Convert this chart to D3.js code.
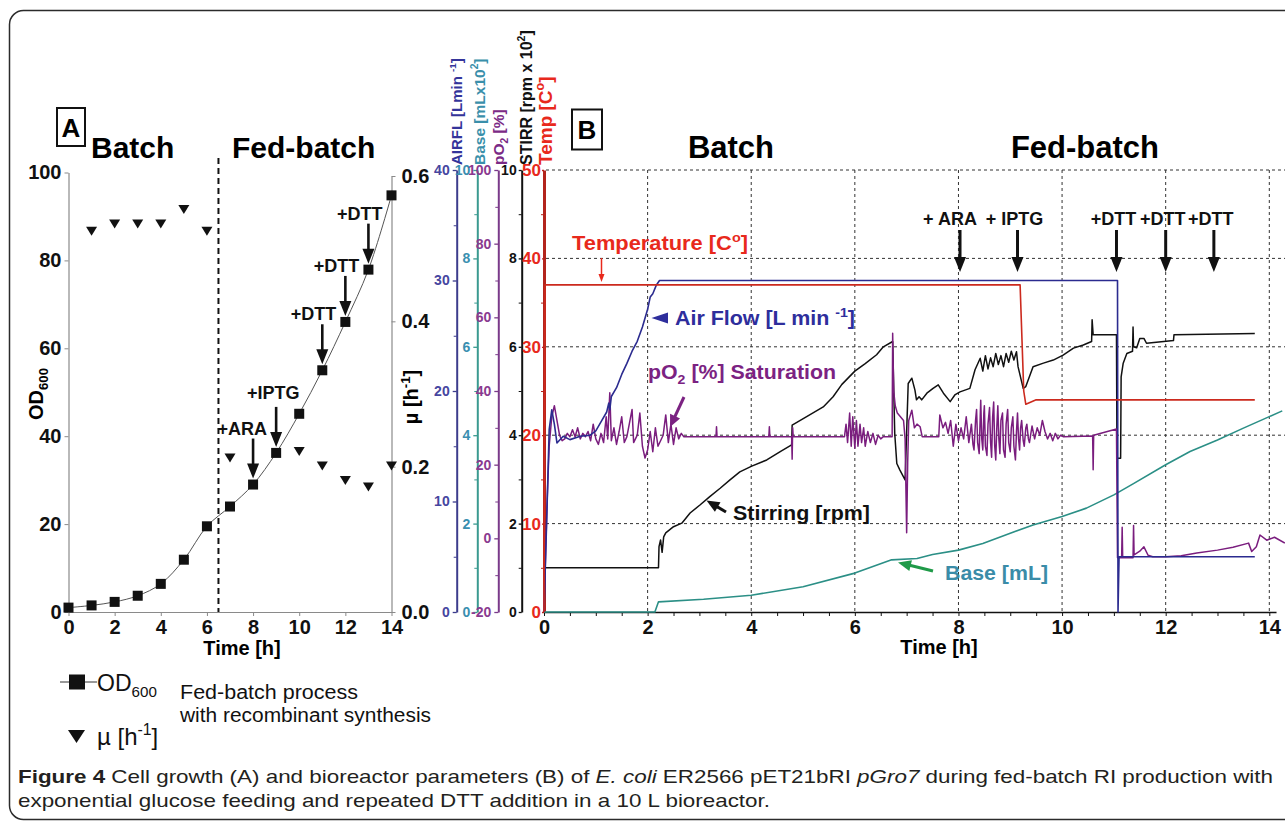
<!DOCTYPE html>
<html>
<head>
<meta charset="utf-8">
<script src="https://cdn.jsdelivr.net/npm/d3@7"></script>
<style>
  body { margin: 0; background: #fff; }
  svg { display: block; font-family: Arial, "Liberation Sans", sans-serif; }
</style>
</head>
<body>
<div id="chart"></div>
<script>
// ---------- Panel A: cell growth ----------
const odHours = [0, 1, 2, 3, 4, 5, 6, 7, 8, 9, 10, 11, 12, 13, 14];
const odValues = [1.0, 1.5, 2.3, 3.7, 6.4, 11.9, 19.5, 24, 29, 36.2, 45.1, 55, 66, 77.9, 94.8];
const muHours = [1, 2, 3, 4, 5, 6, 7, 10, 11, 12, 13, 14];
const muValues = [0.524, 0.534, 0.534, 0.534, 0.554, 0.524, 0.212, 0.221, 0.201, 0.181, 0.172, 0.201];
const odTicks = [0, 20, 40, 60, 80, 100];
const muTicks = [0, 0.2, 0.4, 0.6];
const hourTicks = [0, 2, 4, 6, 8, 10, 12, 14];
const feedStartA = 6.5;
const additionsA = [
  { label: '+ARA', t: 8 }, { label: '+IPTG', t: 9 },
  { label: '+DTT', t: 11 }, { label: '+DTT', t: 12 }, { label: '+DTT', t: 13 }
];

// ---------- Panel B: bioreactor parameters [time h, value] ----------
const temperature = [[0, 0], [0.02, 37], [9.19, 37], [9.26, 25], [9.3, 23.5], [9.5, 24], [13.72, 24]];

const airFlow = [[0, 0], [0.05, 8], [0.1, 16.5], [0.15, 18.3], [0.2, 17], [0.25, 15.3], [0.37, 15.9],
  [0.5, 15.6], [0.7, 15.9], [0.89, 16], [1.0, 16.4], [1.1, 17.2], [1.21, 18.1], [1.25, 18.9], [1.27, 18.3],
  [1.3, 19.5], [1.4, 20.3], [1.5, 21.5], [1.6, 22.5], [1.7, 23.6], [1.8, 24.5], [1.9, 25.8], [2.0, 27.4],
  [2.05, 28.5], [2.1, 28.8], [2.17, 29.6], [2.23, 30], [11.07, 30], [11.08, 0], [11.1, 5], [13.72, 5]];

const pO2 = [[0, -18], [0.03, -5], [0.06, 10], [0.1, 25], [0.15, 33], [0.2, 36], [0.25, 32], [0.3, 28],
  [0.35, 26.5], [0.4, 27], [0.45, 28.5], [0.5, 27.6], [0.55, 29.5], [0.6, 27.6], [0.65, 30], [0.7, 27],
  [0.75, 28.5], [0.8, 27.6], [0.85, 29], [0.9, 26.5], [0.95, 31], [1.0, 27], [1.05, 25.5], [1.1, 28.5],
  [1.15, 26], [1.2, 33], [1.23, 27], [1.27, 39.5], [1.3, 26.5], [1.35, 30], [1.4, 25.5], [1.45, 29],
  [1.5, 33], [1.55, 26], [1.6, 27.6], [1.7, 35], [1.73, 26], [1.8, 28], [1.85, 34], [1.9, 25], [1.95, 21.8],
  [2.0, 24], [2.05, 29], [2.1, 23.5], [2.15, 30], [2.2, 25], [2.3, 28], [2.35, 33.5], [2.4, 26], [2.45, 31],
  [2.5, 25.5], [2.55, 30], [2.6, 27], [2.65, 28.5], [2.7, 27.6],
  [3.32, 27.6], [3.33, 30.3], [3.34, 27.6], [4.34, 27.6], [4.35, 30.3], [4.36, 27.6], [4.78, 27.6],
  [4.79, 21.5], [4.8, 30], [4.81, 27.6], [5.8, 27.6],
  [5.83, 31], [5.86, 26], [5.9, 34], [5.93, 25], [5.96, 33], [6.0, 24.5], [6.03, 32], [6.06, 25], [6.1, 31],
  [6.13, 26], [6.17, 30], [6.2, 25], [6.25, 29], [6.3, 26], [6.35, 28.5], [6.4, 25.5], [6.45, 28], [6.5, 27],
  [6.55, 27.6], [6.72, 27.6],
  [6.73, 55.7], [6.75, 40], [6.78, 36], [6.82, 34], [6.88, 33], [6.94, 32], [6.97, 27], [7.0, 1.5],
  [7.02, 20.5], [7.04, 32], [7.1, 34.8], [7.15, 30], [7.2, 31], [7.26, 30.3], [7.3, 27.6], [7.62, 27.6],
  [7.64, 33.5], [7.7, 30], [7.75, 31.5], [7.8, 28.5], [7.85, 32], [7.9, 25], [7.95, 31], [8.0, 26.5],
  [8.05, 30], [8.1, 27], [8.15, 33], [8.2, 26], [8.25, 31], [8.28, 25.5], [8.3, 24], [8.33, 32], [8.35, 35],
  [8.37, 26], [8.4, 23], [8.42, 33], [8.43, 37.5], [8.45, 27], [8.47, 24], [8.49, 34], [8.5, 36], [8.52, 25],
  [8.55, 22.5], [8.57, 31], [8.6, 35.5], [8.62, 26], [8.64, 22], [8.66, 33], [8.68, 37], [8.7, 25],
  [8.72, 21.3], [8.74, 30], [8.76, 36], [8.78, 27], [8.8, 23], [8.82, 32], [8.85, 34], [8.87, 24], [8.9, 22],
  [8.92, 31], [8.95, 35], [8.97, 26], [9.0, 23.5], [9.02, 30], [9.05, 33], [9.07, 25], [9.1, 21.3],
  [9.12, 29], [9.14, 34], [9.16, 27], [9.18, 24], [9.2, 30], [9.22, 32], [9.25, 26.5], [9.27, 25],
  [9.3, 30], [9.32, 31], [9.35, 27], [9.37, 26], [9.42, 30.5], [9.47, 27], [9.52, 30], [9.57, 28], [9.62, 32],
  [9.67, 29], [9.72, 27], [9.77, 28.5], [9.82, 26.5], [9.87, 28.5], [9.92, 27], [9.97, 28], [10.02, 27.6],
  [10.59, 27.8], [10.6, 18.6], [10.61, 28], [11.05, 29.7], [11.07, -5.3], [11.15, -5.3], [11.16, 3],
  [11.17, -5.3], [11.37, -5.3], [11.38, 3.5], [11.39, -4.5], [11.5, -3.5], [11.58, -2.3], [11.66, -4.6],
  [11.75, -5], [12.0, -5], [12.3, -4.7], [12.6, -4], [13.0, -3.2], [13.3, -2.4], [13.6, -1.3], [13.66, -3.6],
  [13.75, -2.3], [13.82, 0.9], [13.95, -0.5], [14.1, 0.3], [14.3, -1.3]];

const stirring = [[0, 1.0], [2.21, 1.0], [2.22, 1.48], [2.25, 1.63], [2.28, 1.35], [2.31, 1.7], [2.35, 1.79],
  [2.5, 1.93], [2.66, 2.01], [2.82, 2.24], [3.01, 2.42], [3.2, 2.61], [3.4, 2.8], [3.59, 2.99], [3.78, 3.17],
  [4.01, 3.3], [4.3, 3.44], [4.56, 3.63], [4.78, 3.78], [4.79, 4.23], [5.07, 4.42], [5.39, 4.64], [5.58, 4.87],
  [5.75, 5.15], [6.0, 5.45], [6.2, 5.62], [6.42, 5.82], [6.55, 6.0], [6.73, 6.12], [6.77, 4.04], [6.81, 3.36],
  [6.87, 3.21], [6.97, 2.99], [7.03, 5.17], [7.1, 5.29], [7.16, 5.02], [7.19, 4.8], [7.24, 4.87], [7.29, 4.8],
  [7.39, 4.95], [7.51, 5.06], [7.61, 5.14], [7.71, 4.95], [7.84, 4.76], [7.93, 4.91], [8.03, 4.98],
  [8.22, 5.06], [8.32, 5.48], [8.42, 5.74], [8.47, 5.45], [8.52, 5.8], [8.57, 5.5], [8.62, 5.75], [8.67, 5.55],
  [8.72, 5.85], [8.77, 5.6], [8.82, 5.8], [8.87, 5.55], [8.92, 5.85], [8.97, 5.65], [9.02, 5.9], [9.07, 5.7],
  [9.12, 5.89], [9.15, 5.55], [9.25, 5.06], [9.3, 5.1], [9.44, 5.55], [9.64, 5.63], [9.83, 5.7], [10.02, 5.81],
  [10.22, 5.97], [10.41, 6.04], [10.57, 6.12], [10.58, 6.61], [10.6, 6.27], [11.05, 6.27], [11.06, 3.48],
  [11.13, 3.48], [11.14, 5.32], [11.18, 5.63], [11.25, 5.85], [11.36, 5.9], [11.37, 6.45], [11.38, 6.0],
  [11.44, 5.98], [11.5, 6.19], [11.58, 6.19], [11.63, 6.08], [12.15, 6.14], [12.16, 6.27], [13.72, 6.3]];

const base = [[0, 0], [2.14, 0], [2.21, 0.23], [3.08, 0.29], [4.0, 0.38], [5.0, 0.57], [6.0, 0.88],
  [6.71, 1.18], [7.2, 1.21], [7.5, 1.3], [8.0, 1.4], [8.47, 1.55], [9.0, 1.78], [9.44, 1.97], [10.0, 2.16],
  [10.47, 2.35], [11.0, 2.65], [11.37, 2.9], [12.0, 3.33], [12.47, 3.63], [13.0, 3.89], [13.5, 4.16],
  [14.0, 4.42], [14.25, 4.55]];

const paramAxes = [
  { key: 'air', domain: [0, 40], labels: [0, 10, 20, 30, 40], minor: [5, 15, 25, 35] },
  { key: 'base', domain: [0, 10], labels: [0, 2, 4, 6, 8, 10], minor: [1, 3, 5, 7, 9] },
  { key: 'po2', domain: [-20, 100], labels: [-20, 0, 20, 40, 60, 80, 100], minor: [-10, 10, 30, 50, 70, 90] },
  { key: 'stir', domain: [0, 10], labels: [0, 2, 4, 6, 8, 10], minor: [1, 3, 5, 7, 9] },
  { key: 'temp', domain: [0, 50], labels: [0, 10, 20, 30, 40, 50], minor: [5, 15, 25, 35, 45] }
];
const gridTemps = [10, 20, 30, 40, 50];
const gridHours = [2, 4, 6, 8, 10, 12, 14];
const additionsB = [
  { label: '+ ARA', t: 8.03 }, { label: '+ IPTG', t: 9.14 },
  { label: '+DTT', t: 11.05 }, { label: '+DTT', t: 12 }, { label: '+DTT', t: 12.93 }
];

// ---------- styles per axis ----------
const axisStyle = {
  air:  { x: 456.7, line: '#3c3c8c', text: '#4646a0', lw: 2, size: 14, tick: 4, pad: 3 },
  base: { x: 477.3, line: '#3a9a90', text: '#3a8fb0', lw: 2, size: 14, tick: 4, pad: 3 },
  po2:  { x: 498.3, line: '#7a3a8a', text: '#8a3a90', lw: 2, size: 14, tick: 4, pad: 3 },
  stir: { x: 521.7, line: '#111', text: '#111', lw: 2, size: 14, tick: 3, pad: 2 },
  temp: { x: 544, line: '#b3241c', text: '#e8291c', lw: 3, size: 17, tick: 2, pad: 1 }
};

const W = 1285, H = 821;
const svg = d3.select('#chart').append('svg').attr('width', W).attr('height', H);
svg.append('rect').attr('width', W).attr('height', H).attr('fill', '#fff');

// outer rounded frame
svg.append('rect').attr('x', 9.5).attr('y', 10.5).attr('width', 1320).attr('height', 809)
  .attr('rx', 14).attr('fill', 'none').attr('stroke', '#2b2b2b').attr('stroke-width', 1.5);

// text with sub/superscripts
function rich(sel, parts, size) {
  let off = 0;
  parts.forEach(p => {
    const target = p.sup ? -0.4 * size : p.sub ? 0.25 * size : 0;
    const ts = sel.append('tspan').attr('dy', target - off).text(p.t);
    if (p.sup || p.sub) ts.attr('font-size', size * 0.66);
    off = target;
  });
  return sel;
}

// arrow from (x1,y1) to tip (x2,y2)
function arrow(g, x1, y1, x2, y2, color, shaft, headLen, headW) {
  const dx = x2 - x1, dy = y2 - y1, L = Math.hypot(dx, dy), ux = dx / L, uy = dy / L;
  const bx = x2 - ux * headLen, by = y2 - uy * headLen;
  g.append('line').attr('x1', x1).attr('y1', y1).attr('x2', bx + ux).attr('y2', by + uy)
    .attr('stroke', color).attr('stroke-width', shaft);
  g.append('path')
    .attr('d', `M${x2},${y2}L${bx - uy * headW / 2},${by + ux * headW / 2}L${bx + uy * headW / 2},${by - ux * headW / 2}Z`)
    .attr('fill', color);
}

// ================= Panel A =================
const gA = svg.append('g');
const xA = d3.scaleLinear().domain([0, 14]).range([68.5, 391.5]);
const yOD = d3.scaleLinear().domain([0, 100]).range([612, 172.5]);
const yMu = d3.scaleLinear().domain([0, 0.6]).range([612, 176]);

function styleAxisA(g) {
  g.select('.domain').attr('stroke', '#8a8a8a').attr('stroke-width', 1.2);
  g.selectAll('.tick line').attr('stroke', '#8a8a8a');
  g.selectAll('.tick text').attr('font-size', 20).attr('font-weight', 'bold').attr('fill', '#111');
}

gA.append('g').attr('transform', 'translate(68.5,0)')
  .call(d3.axisLeft(yOD).tickValues(odTicks).tickSize(4).tickSizeOuter(0).tickPadding(3))
  .call(styleAxisA);
gA.append('g').attr('transform', 'translate(0,612)')
  .call(d3.axisBottom(xA).tickValues(hourTicks).tickSize(4).tickSizeOuter(0).tickPadding(4))
  .call(styleAxisA);
gA.append('g').attr('transform', 'translate(391.5,0)')
  .call(d3.axisRight(yMu).tickValues(muTicks).tickFormat(d3.format('.1f')).tickSize(4).tickSizeOuter(0).tickPadding(6))
  .call(styleAxisA);

// phase separator
gA.append('line').attr('x1', xA(feedStartA)).attr('x2', xA(feedStartA)).attr('y1', 158).attr('y2', 612)
  .attr('stroke', '#111').attr('stroke-width', 2).attr('stroke-dasharray', '6,4');

// OD curve + markers
const odData = odHours.map((t, i) => [t, odValues[i]]);
gA.append('path').datum(odData)
  .attr('d', d3.line().x(d => xA(d[0])).y(d => yOD(d[1])).curve(d3.curveCatmullRom))
  .attr('fill', 'none').attr('stroke', '#555').attr('stroke-width', 1);
gA.selectAll('.sq').data(odData).enter().append('rect')
  .attr('x', d => xA(d[0]) - 5).attr('y', d => yOD(d[1]) - 5).attr('width', 10).attr('height', 10).attr('fill', '#111');

const muData = muHours.map((t, i) => [t, muValues[i]]);
gA.selectAll('.tri').data(muData).enter().append('path')
  .attr('d', d => { const x = xA(d[0]), y = yMu(d[1]); return `M${x - 5.5},${y - 4.5}L${x + 5.5},${y - 4.5}L${x},${y + 4.5}Z`; })
  .attr('fill', '#111');

// addition arrows
additionsA.forEach(a => {
  const x = xA(a.t);
  const tip = yOD(odValues[odHours.indexOf(a.t)]) - 6;
  const top = tip - 40;
  arrow(gA, x, top, x, tip, '#111', 2.6, 15, 12);
  const tx = gA.append('text').attr('font-size', 18).attr('font-weight', 'bold').attr('fill', '#111').text(a.label);
  if (a.label === '+IPTG') tx.attr('x', x - 3).attr('y', top - 8).attr('text-anchor', 'middle');
  else tx.attr('x', x + 14).attr('y', top - 4).attr('text-anchor', 'end');
});

// panel A titles
gA.append('rect').attr('x', 57).attr('y', 108).attr('width', 28).attr('height', 38)
  .attr('fill', 'none').attr('stroke', '#111').attr('stroke-width', 2);
gA.append('text').attr('x', 71).attr('y', 137).attr('text-anchor', 'middle').attr('font-size', 26)
  .attr('font-weight', 'bold').text('A');
gA.append('text').attr('x', 91).attr('y', 158).attr('font-size', 30).attr('font-weight', 'bold').text('Batch');
gA.append('text').attr('x', 232).attr('y', 158).attr('font-size', 30).attr('font-weight', 'bold').text('Fed-batch');

gA.append('text').attr('x', 242).attr('y', 655).attr('text-anchor', 'middle').attr('font-size', 20)
  .attr('font-weight', 'bold').text('Time [h]');
rich(gA.append('text').attr('transform', 'translate(43,394) rotate(-90)').attr('text-anchor', 'middle')
  .attr('font-size', 20).attr('font-weight', 'bold'), [{ t: 'OD' }, { t: '600', sub: true }], 20);
rich(gA.append('text').attr('transform', 'translate(418,397) rotate(-90)').attr('text-anchor', 'middle')
  .attr('font-size', 20).attr('font-weight', 'bold'), [{ t: 'µ [h' }, { t: '-1', sup: true }, { t: ']' }], 20);

// legend
gA.append('line').attr('x1', 60).attr('x2', 97).attr('y1', 682).attr('y2', 682).attr('stroke', '#333').attr('stroke-width', 1);
gA.append('rect').attr('x', 69).attr('y', 674.5).attr('width', 16).attr('height', 15).attr('fill', '#111');
rich(gA.append('text').attr('x', 97).attr('y', 691).attr('font-size', 23).attr('fill', '#111'),
  [{ t: 'OD' }, { t: '600', sub: true }], 23);
gA.append('path').attr('d', 'M68,730L85,730L76.5,743Z').attr('fill', '#111');
rich(gA.append('text').attr('x', 97).attr('y', 745).attr('font-size', 24).attr('fill', '#111'),
  [{ t: 'µ [h' }, { t: '-1', sup: true }, { t: ']' }], 24);
gA.append('text').attr('x', 180).attr('y', 699).attr('font-size', 20).attr('fill', '#111')
  .attr('textLength', 178).attr('lengthAdjust', 'spacingAndGlyphs').text('Fed-batch process');
gA.append('text').attr('x', 180).attr('y', 722).attr('font-size', 20).attr('fill', '#111')
  .attr('textLength', 251).attr('lengthAdjust', 'spacingAndGlyphs').text('with recombinant synthesis');

// ================= Panel B =================
const gB = svg.append('g');
const xB = d3.scaleLinear().domain([0, 14]).range([544, 1269.3]);
const yB = {};
paramAxes.forEach(a => { yB[a.key] = d3.scaleLinear().domain(a.domain).range([612, 170]); });

// grid
gB.selectAll('.hgrid').data(gridTemps).enter().append('line')
  .attr('x1', 546).attr('x2', W).attr('y1', d => yB.temp(d)).attr('y2', d => yB.temp(d))
  .attr('stroke', '#333').attr('stroke-width', 1).attr('stroke-dasharray', '3,3');
gB.selectAll('.vgrid').data(gridHours).enter().append('line')
  .attr('x1', d => xB(d)).attr('x2', d => xB(d)).attr('y1', 170).attr('y2', 612)
  .attr('stroke', '#333').attr('stroke-width', 1).attr('stroke-dasharray', '3,3');

// time axis
const xAxisScale = d3.scaleLinear().domain([0, 14.13]).range([544, xB(14.13)]);
const gX = gB.append('g').attr('transform', 'translate(0,612)')
  .call(d3.axisBottom(xAxisScale).tickValues(d3.range(0, 14.01, 0.5))
    .tickFormat(d => (d % 2 === 0 ? d : '')).tickSize(4).tickSizeOuter(0).tickPadding(4));
gX.select('.domain').attr('stroke', '#111').attr('stroke-width', 1.5);
gX.selectAll('.tick line').attr('stroke', '#111');
gX.selectAll('.tick text').attr('font-size', 20).attr('font-weight', 'bold').attr('fill', '#111');
gB.append('text').attr('x', 939).attr('y', 654).attr('text-anchor', 'middle').attr('font-size', 20)
  .attr('font-weight', 'bold').text('Time [h]');

// parameter axes
paramAxes.forEach(a => {
  const s = axisStyle[a.key];
  const g = gB.append('g').attr('transform', `translate(${s.x},0)`);
  g.call(d3.axisLeft(yB[a.key]).tickValues(a.labels).tickFormat(d => String(d))
    .tickSize(s.tick).tickSizeOuter(0).tickPadding(s.pad));
  g.select('.domain').attr('stroke', s.line).attr('stroke-width', s.lw);
  g.selectAll('.tick line').attr('stroke', s.line).attr('stroke-width', 1.3);
  g.selectAll('.tick text').attr('font-size', s.size).attr('font-weight', 'bold').attr('fill', s.text);
  const m = g.append('g').call(d3.axisLeft(yB[a.key]).tickValues(a.minor).tickFormat('').tickSize(3).tickSizeOuter(0));
  m.select('.domain').remove();
  m.selectAll('.tick line').attr('stroke', s.line);
});

// axis titles (rotated)
const axisTitles = [
  { x: 461.5, color: '#34349a', size: 15, parts: [{ t: 'AIRFL [Lmin ' }, { t: '-1', sup: true }, { t: ']' }] },
  { x: 484.5, color: '#3a8faa', size: 15.5, parts: [{ t: 'Base [mLx10' }, { t: '2', sup: true }, { t: ']' }] },
  { x: 504, color: '#7b2a86', size: 15.5, parts: [{ t: 'pO' }, { t: '2', sub: true }, { t: ' [%]' }] },
  { x: 531.5, color: '#111', size: 16, parts: [{ t: 'STIRR [rpm x 10' }, { t: '2', sup: true }, { t: ']' }] },
  { x: 552, color: '#e8291c', size: 19, parts: [{ t: 'Temp [C' }, { t: 'o', sup: true }, { t: ']' }] }
];
axisTitles.forEach(a => {
  rich(gB.append('text').attr('transform', `translate(${a.x},165) rotate(-90)`).attr('font-size', a.size)
    .attr('font-weight', 'bold').attr('fill', a.color), a.parts, a.size);
});

// series
const series = [
  { data: base, y: yB.base, color: '#2b8f86', w: 1.6 },
  { data: stirring, y: yB.stir, color: '#111', w: 1.5 },
  { data: pO2, y: yB.po2, color: '#7a1d7e', w: 1.5 },
  { data: airFlow, y: yB.air, color: '#2b2b8f', w: 1.6 },
  { data: temperature, y: yB.temp, color: '#cc2a1e', w: 1.6 }
];
series.forEach(s => {
  gB.append('path').datum(s.data)
    .attr('d', d3.line().x(d => xB(d[0])).y(d => s.y(d[1])))
    .attr('fill', 'none').attr('stroke', s.color).attr('stroke-width', s.w).attr('stroke-linejoin', 'round');
});

// addition arrows B
additionsB.forEach(a => {
  const x = xB(a.t);
  arrow(gB, x, 230, x, 272, '#111', 3, 15, 12);
  gB.append('text').attr('x', a.label === '+ ARA' ? x - 10 : x - 3).attr('y', 225).attr('text-anchor', 'middle')
    .attr('font-size', 18).attr('font-weight', 'bold').attr('fill', '#111').text(a.label);
});

// panel B titles
gB.append('rect').attr('x', 572).attr('y', 109.5).attr('width', 30).attr('height', 40)
  .attr('fill', 'none').attr('stroke', '#111').attr('stroke-width', 2);
gB.append('text').attr('x', 587).attr('y', 139).attr('text-anchor', 'middle').attr('font-size', 26)
  .attr('font-weight', 'bold').text('B');
gB.append('text').attr('x', 731).attr('y', 158).attr('text-anchor', 'middle').attr('font-size', 31)
  .attr('font-weight', 'bold').text('Batch');
gB.append('text').attr('x', 1085).attr('y', 158).attr('text-anchor', 'middle').attr('font-size', 31)
  .attr('font-weight', 'bold').text('Fed-batch');

// series labels
rich(gB.append('text').attr('x', 572).attr('y', 250).attr('font-size', 20).attr('font-weight', 'bold')
  .attr('fill', '#e8291c').attr('textLength', 176).attr('lengthAdjust', 'spacingAndGlyphs'),
  [{ t: 'Temperature [C' }, { t: 'o', sup: true }, { t: ']' }], 20);
arrow(gB, 601.5, 258, 601.5, 282, '#e8291c', 1.5, 8, 6);

gB.append('path').attr('d', 'M651.5,318L668,312.5L668,323.5Z').attr('fill', '#2e2e9c');
rich(gB.append('text').attr('x', 675).attr('y', 325).attr('font-size', 20).attr('font-weight', 'bold')
  .attr('fill', '#2e2e9c').attr('textLength', 180).attr('lengthAdjust', 'spacingAndGlyphs'),
  [{ t: 'Air Flow [L min ' }, { t: '-1', sup: true }, { t: ']' }], 20);

rich(gB.append('text').attr('x', 648).attr('y', 379).attr('font-size', 20).attr('font-weight', 'bold')
  .attr('fill', '#7b2282').attr('textLength', 188).attr('lengthAdjust', 'spacingAndGlyphs'),
  [{ t: 'pO' }, { t: '2', sub: true }, { t: ' [%] Saturation' }], 20);
arrow(gB, 684, 397, 670, 427, '#7b2282', 3, 12, 11);

gB.append('text').attr('x', 733).attr('y', 520).attr('font-size', 20).attr('font-weight', 'bold')
  .attr('fill', '#111').attr('textLength', 137).attr('lengthAdjust', 'spacingAndGlyphs').text('Stirring [rpm]');
arrow(gB, 726, 512, 706.5, 500.5, '#111', 3, 13, 11);

gB.append('text').attr('x', 945).attr('y', 580).attr('font-size', 20).attr('font-weight', 'bold')
  .attr('fill', '#3a8ca8').attr('textLength', 103).attr('lengthAdjust', 'spacingAndGlyphs').text('Base [mL]');
arrow(gB, 933, 571, 898, 562.5, '#1f9a48', 3, 13, 11);

// ================= Caption =================
const cap1 = svg.append('text').attr('x', 18).attr('y', 783).attr('font-size', 18.5).attr('fill', '#231f20')
  .attr('textLength', 1255).attr('lengthAdjust', 'spacingAndGlyphs');
cap1.append('tspan').attr('font-weight', 'bold').text('Figure 4 ');
cap1.append('tspan').text('Cell growth (A) and bioreactor parameters (B) of ');
cap1.append('tspan').attr('font-style', 'italic').text('E. coli');
cap1.append('tspan').text(' ER2566 pET21bRI ');
cap1.append('tspan').attr('font-style', 'italic').text('pGro7');
cap1.append('tspan').text(' during fed-batch RI production with');
svg.append('text').attr('x', 18).attr('y', 807).attr('font-size', 18.5).attr('fill', '#231f20')
  .attr('textLength', 752).attr('lengthAdjust', 'spacingAndGlyphs')
  .text('exponential glucose feeding and repeated DTT addition in a 10 L bioreactor.');
</script>
</body>
</html>
